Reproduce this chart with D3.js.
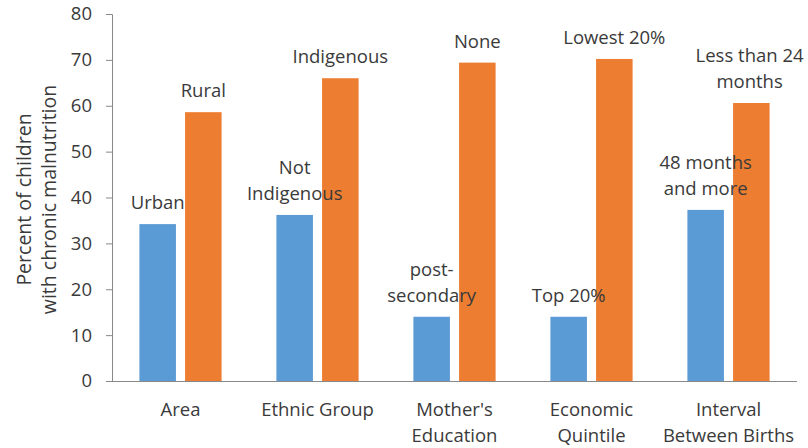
<!DOCTYPE html>
<html>
<head>
<meta charset="utf-8">
<script src="https://cdn.jsdelivr.net/npm/d3@7"></script>
<style>
  html, body { margin: 0; padding: 0; background: #fff; }
  svg { display: block; font-family: "Open Sans", "Liberation Sans", sans-serif; }
</style>
</head>
<body>
<svg id="chart" width="808" height="448"></svg>
<script>
// Chronic malnutrition among children, by household characteristic
const categories = [
  ["Area"],
  ["Ethnic Group"],
  ["Mother's", "Education"],
  ["Economic", "Quintile"],
  ["Interval", "Between Births"]
];
const lowRiskValues  = [34.2, 36.2, 14.0, 14.0, 37.3];
const highRiskValues = [58.6, 66.0, 69.4, 70.2, 60.6];
const lowRiskLabels = [
  ["Urban"], ["Not", "Indigenous"], ["post-", "secondary"], ["Top 20%"], ["48 months", "and more"]
];
const highRiskLabels = [
  ["Rural"], ["Indigenous"], ["None"], ["Lowest 20%"], ["Less than 24", "months"]
];
const yTicks = [0, 10, 20, 30, 40, 50, 60, 70, 80];
const yTitle = ["Percent of children", "with chronic malnutrition"];

const W = 808, H = 448;
const margin = { left: 112, right: 11, top: 14, bottom: 67 };
const fontSize = 18.5, titleSize = 19.5, lineGap = 25.5;
const textColor = "#3a3a3a", axisColor = "#898989";
const colors = ["#5B9BD5", "#ED7D31"];

const svg = d3.select("#chart");

const x0 = d3.scaleBand()
  .domain(d3.range(categories.length))
  .range([margin.left, W - margin.right])
  .paddingInner(0.4)
  .paddingOuter(0.2);

const x1 = d3.scaleBand()
  .domain([0, 1])
  .range([0, x0.bandwidth()])
  .paddingInner(0.2);

const y = d3.scaleLinear()
  .domain([0, 80])
  .range([H - margin.bottom, margin.top]);

// y axis
const yAxis = svg.append("g")
  .attr("transform", `translate(${margin.left},0)`)
  .call(d3.axisLeft(y).tickValues(yTicks).tickSize(6).tickPadding(14).tickFormat(d3.format("d")));
yAxis.select(".domain").attr("stroke", axisColor).attr("d", `M-6,${y(80) + 0.5}H0.5V${y(0)}`);
yAxis.selectAll(".tick line").attr("stroke", axisColor);
yAxis.selectAll(".tick text")
  .attr("fill", textColor)
  .style("font-size", fontSize + "px")
  .style("font-family", "'Open Sans', sans-serif");

// bars
const rows = categories.map((c, i) => ({ i, values: [lowRiskValues[i], highRiskValues[i]], labels: [lowRiskLabels[i], highRiskLabels[i]] }));

const groups = svg.append("g").selectAll("g")
  .data(rows)
  .join("g")
  .attr("transform", d => `translate(${x0(d.i)},0)`);

groups.selectAll("rect")
  .data(d => d.values.map((v, k) => ({ v, k })))
  .join("rect")
  .attr("x", d => x1(d.k))
  .attr("width", x1.bandwidth())
  .attr("y", d => y(d.v))
  .attr("height", d => y(0) - y(d.v))
  .attr("fill", d => colors[d.k]);

// x axis line
svg.append("line")
  .attr("x1", margin.left - 6).attr("x2", W - margin.right)
  .attr("y1", y(0) + 0.5).attr("y2", y(0) + 0.5)
  .attr("stroke", axisColor);

// value-series labels above each bar
const labelLayer = svg.append("g")
  .attr("fill", textColor)
  .style("font-size", fontSize + "px");

rows.forEach(r => {
  r.values.forEach((v, k) => {
    const lines = r.labels[k];
    const cx = x0(r.i) + x1(k) + x1.bandwidth() / 2;
    const baseY = y(v) - 15;
    const t = labelLayer.append("text")
      .attr("text-anchor", "middle")
      .attr("x", cx);
    lines.forEach((ln, j) => {
      t.append("tspan")
        .attr("x", cx)
        .attr("y", baseY - (lines.length - 1 - j) * lineGap)
        .text(ln);
    });
    // keep the label inside the drawing
    const bb = t.node().getBBox();
    const overflow = bb.x + bb.width - (W - 4);
    if (overflow > 0) {
      t.selectAll("tspan").attr("x", cx - overflow);
    }
  });
});

// category labels
const catLayer = svg.append("g")
  .attr("fill", textColor)
  .style("font-size", fontSize + "px");
categories.forEach((lines, i) => {
  const cx = x0(i) + x0.bandwidth() / 2;
  const t = catLayer.append("text").attr("text-anchor", "middle");
  lines.forEach((ln, j) => {
    t.append("tspan").attr("x", cx).attr("y", 416 + j * lineGap).text(ln);
  });
});

// y axis title
const cy = (y(0) + y(80)) / 2 + 2;
const title = svg.append("text")
  .attr("transform", `translate(0,${cy}) rotate(-90)`)
  .attr("text-anchor", "middle")
  .attr("fill", textColor)
  .style("font-size", titleSize + "px");
yTitle.forEach((ln, j) => {
  title.append("tspan").attr("x", 0).attr("y", 31 + j * 25).text(ln);
});
</script>
</body>
</html>
